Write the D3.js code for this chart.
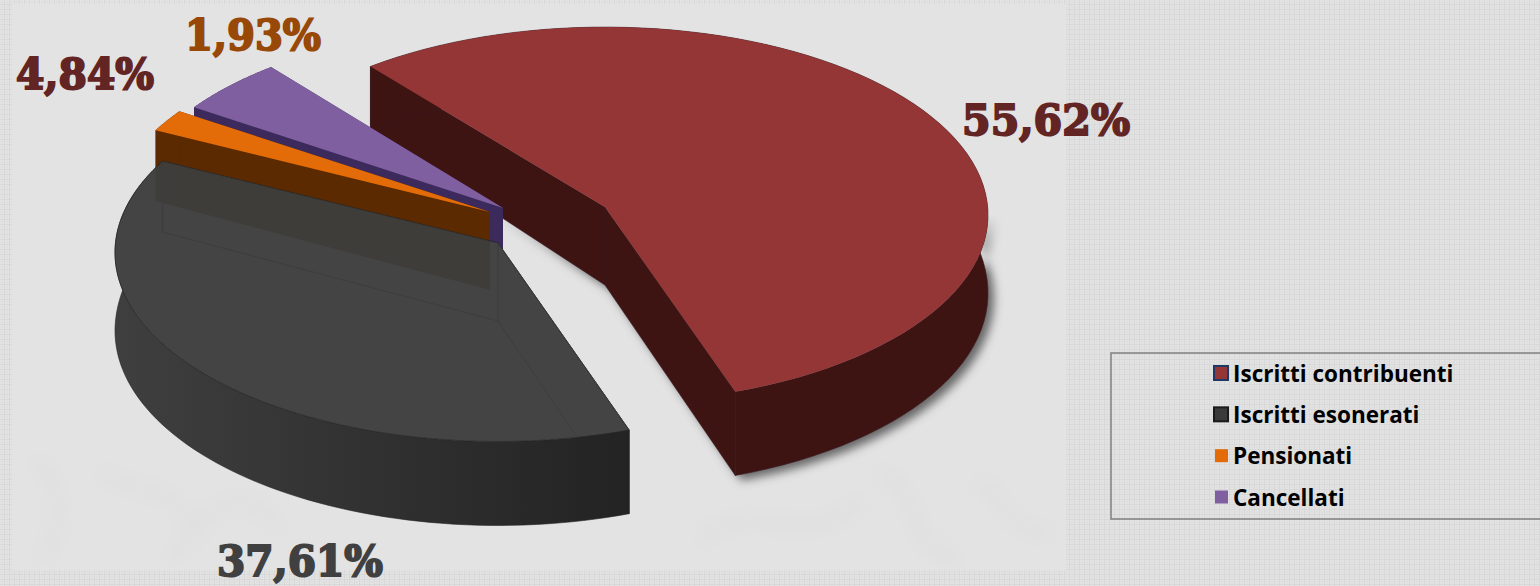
<!DOCTYPE html>
<html><head><meta charset="utf-8">
<script src="https://cdn.jsdelivr.net/npm/d3@7/dist/d3.min.js"></script>
<style>html,body{margin:0;padding:0;background:#e0e0e0;overflow:hidden}svg{display:block}</style>
</head><body><svg id="c" width="1540" height="586"></svg>
<script>
const categories = ["Iscritti contribuenti","Iscritti esonerati","Pensionati","Cancellati"];
const values = [55.62,37.61,1.93,4.84];
const labels = ["55,62%","37,61%","1,93%","4,84%"];
const topColors = ["#943636","#444444","#e36c09","#7f5fa0"];
const wallColors = ["#3d1412","#333333","#5c2a00","#3d2a5c"];
const labelColors = ["#632523","#404040","#984807","#632523"];
// projection of each exploded slice
const slicesGeo = [
 {x:605,y:207,rx:383,ry:188,p:.043},
 {x:498,y:243,rx:383,ry:189,p:.05},
 {x:490,y:212,rx:380,ry:188,p:.04},
 {x:503,y:208,rx:378,ry:188,p:.04}];
const labelGeo = [
 {x:962,y:135,w:168},{x:217,y:576,w:166},{x:185,y:50,w:136},{x:16,y:89,w:138}];

const svg = d3.select("#c");
const defs = svg.append("defs");
const pat = defs.append("pattern").attr("id","tex").attr("width",5).attr("height",5).attr("patternUnits","userSpaceOnUse");
pat.append("rect").attr("width",5).attr("height",5).attr("fill","#d8d8d8");
pat.append("rect").attr("width",4).attr("height",4).attr("fill","#e3e3e3");
pat.append("rect").attr("x",1).attr("y",1).attr("width",2).attr("height",2).attr("fill","#dedede");
defs.append("filter").attr("id","blur").attr("x","-20%").attr("y","-20%").attr("width","140%").attr("height","140%")
  .append("feGaussianBlur").attr("stdDeviation",5);
defs.append("filter").attr("id","blur2").attr("x","-20%").attr("y","-20%").attr("width","140%").attr("height","140%")
  .append("feGaussianBlur").attr("stdDeviation",8);
const mg = defs.append("linearGradient").attr("id","mg").attr("gradientUnits","userSpaceOnUse")
  .attr("x1",0).attr("x2",0).attr("y1",215).attr("y2",275);
mg.append("stop").attr("offset",0).attr("stop-color","#000");
mg.append("stop").attr("offset",1).attr("stop-color","#fff");
defs.append("mask").attr("id","shm").attr("maskUnits","userSpaceOnUse").attr("x",0).attr("y",0).attr("width",1540).attr("height",586)
  .append("rect").attr("width",1540).attr("height",586).attr("fill","url(#mg)");
const grad = defs.append("linearGradient").attr("id","gw").attr("gradientUnits","userSpaceOnUse")
  .attr("x1",114).attr("x2",628).attr("y1",0).attr("y2",0);
grad.append("stop").attr("offset",0).attr("stop-color","#3f3f3f");
grad.append("stop").attr("offset",1).attr("stop-color","#232323");

svg.append("rect").attr("width",1540).attr("height",586).attr("fill","url(#tex)");
svg.append("rect").attr("x",12).attr("y",4).attr("width",1054).attr("height",566).attr("fill","#e3e3e3");
// faint background ornament
const orn = svg.append("g").attr("filter","url(#blur2)").attr("fill","none").attr("stroke","#e0e0e0").attr("stroke-width",16);
["M35 460C70 490 60 540 40 560","M100 470C130 500 170 470 200 540","M170 560C220 500 240 480 280 530",
 "M700 540C760 490 800 560 860 500","M880 470C930 500 900 550 960 560","M980 480C1010 510 1020 540 1050 530"]
 .forEach(d=>orn.append("path").attr("d",d));

const pie = d3.pie().sort(null).value(d=>d).startAngle(-39.3*Math.PI/180).endAngle((360-39.3)*Math.PI/180);
const arcs = pie(values);
const depth = d3.scaleLinear().domain([-1,0,1]).range([62,78,84]);
const line = d3.line();

function proj(g,th,r){
  const q=Math.sqrt(1-g.p*g.p), u=Math.sin(th)*r, v=-Math.cos(th)*r, s=1/(1-g.p*v);
  return {x:g.x+g.rx*q*u*s, y:g.y+g.ry*q*q*v*s, v};
}
const pts=(g,a,drop)=>d3.range(0,81).map(i=>{
  const th=a.startAngle+(a.endAngle-a.startAngle)*i/80, P=proj(g,th,1);
  return [P.x,P.y+(drop?depth(P.v):0)];
});
const apex=(g,drop)=>[g.x,g.y+(drop?depth(0):0)];
const topPath=(g,a)=>line([apex(g,false),...pts(g,a,false)])+"Z";
const ribbon=(g,a)=>line([...pts(g,a,false),...pts(g,a,true).reverse()])+"Z";
const side=(g,a,end)=>{const t=pts(g,a,false),b=pts(g,a,true),k=end?80:0;
  return line([apex(g,false),t[k],b[k],apex(g,true)])+"Z";};

function walls(sel,i,fill,stroke){
  const g=slicesGeo[i],a=arcs[i];
  [side(g,a,false),side(g,a,true),ribbon(g,a)].forEach(d=>{
    sel.append("path").attr("d",d).attr("fill",fill).attr("stroke",stroke||"none").attr("stroke-width",.6);
  });
}
// shadow of the large slice, fading in below its rim
const shWrap=svg.append("g").attr("mask","url(#shm)");
const sh=shWrap.append("g").attr("filter","url(#blur)").attr("transform","translate(6,5)");
walls(sh,0,"#666666");

// draw order: red, purple, orange, grey
[0,3,2].forEach(i=>{
  walls(svg,i,wallColors[i],i===0?"#3a1a24":null);
  svg.append("path").attr("d",topPath(slicesGeo[i],arcs[i])).attr("fill",topColors[i]);
});
// grey slice
walls(svg,1,"url(#gw)","#222222");
svg.append("path").attr("d",topPath(slicesGeo[1],arcs[1])).attr("fill",topColors[1])
  .attr("stroke","#262626").attr("stroke-width",.7);
defs.append("clipPath").attr("id","gc").append("path").attr("d",topPath(slicesGeo[1],arcs[1]));
// wall behind, seen through the grey top
const ghost=svg.append("g").attr("clip-path","url(#gc)");
ghost.append("path").attr("d",side(slicesGeo[2],arcs[2],false)).attr("fill","#2a1a00").attr("opacity",.15);
const gl=slicesGeo[1];
ghost.append("path").attr("d",side(gl,arcs[1],true)).attr("fill","none").attr("stroke","#3d3d3d").attr("stroke-width",1);
ghost.append("path").attr("d",side(gl,arcs[1],false)).attr("fill","none").attr("stroke","#3e3e3e").attr("stroke-width",1);

// value labels
labels.forEach((t,i)=>{
  const L=labelGeo[i];
  svg.append("text").attr("x",L.x).attr("y",L.y).text(t)
    .attr("font-family","'DejaVu Serif'").attr("font-weight",700).attr("font-size",42)
    .attr("textLength",L.w).attr("lengthAdjust","spacingAndGlyphs")
    .attr("fill",labelColors[i]).attr("stroke",labelColors[i]).attr("stroke-width",2);
});

// legend
svg.append("rect").attr("x",1111).attr("y",353).attr("width",440).attr("height",166)
  .attr("fill","none").attr("stroke","#858585").attr("stroke-width",1.6);
const rowY=d3.scalePoint().domain(categories).range([373,497]);
categories.forEach((c,i)=>{
  const y=rowY(c), inset=i<2;
  svg.append("rect").attr("x",inset?1214:1215).attr("y",y-(inset?7:6.5)).attr("width",inset?14:13).attr("height",inset?14:13)
    .attr("fill",i===1?"#3a3a3a":topColors[i])
    .attr("stroke",i===0?"#1f3864":i===1?"#1a1a1a":"none").attr("stroke-width",inset?2:0);
  svg.append("text").attr("x",1233).attr("y",y+8.5).text(c)
    .attr("font-family","'Open Sans'").attr("font-weight",700).attr("font-size",22.5).attr("fill","#000");
});
</script></body></html>
